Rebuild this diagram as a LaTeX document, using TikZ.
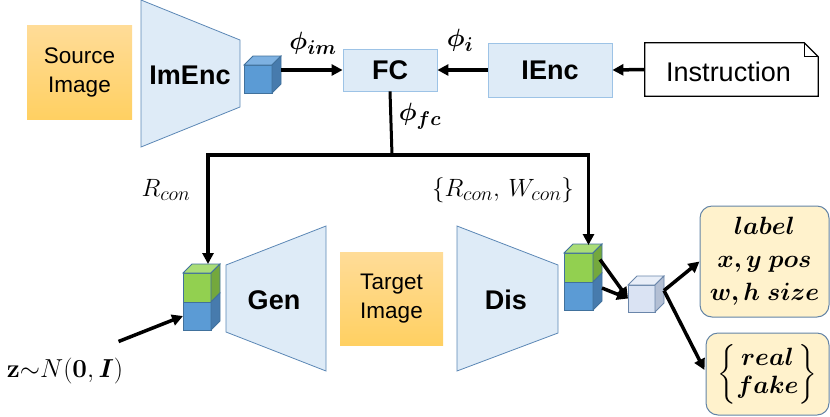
\RequirePackage{fix-cm}
\documentclass[tikz,border=0pt]{standalone}
\usepackage{amsmath,bm}
\usepackage[no-math]{fontspec}
\setmainfont{Liberation Sans}
\usetikzlibrary{arrows.meta,calc,positioning}
\DeclareMathSizes{25}{25}{20}{15}
\DeclareMathSizes{26}{26}{20}{15}
\definecolor{encfill}{HTML}{DEEBF7}
\definecolor{encline}{HTML}{5B87B5}
\definecolor{boxline}{HTML}{9DC3E6}
\definecolor{imgtop}{HTML}{FFDC98}
\definecolor{imgbot}{HTML}{FFD062}
\definecolor{cubeline}{HTML}{41719C}
\definecolor{blueface}{HTML}{5B9BD5}
\definecolor{bluetop}{HTML}{7EB1E1}
\definecolor{blueside}{HTML}{477BAD}
\definecolor{greenface}{HTML}{92D050}
\definecolor{greentop}{HTML}{AADD77}
\definecolor{greenside}{HTML}{74A83D}
\definecolor{paleface}{HTML}{DAE3F3}
\definecolor{paletop}{HTML}{E8EEF8}
\definecolor{paleside}{HTML}{B3BFD4}
\definecolor{paleline}{HTML}{6A86AA}
\definecolor{outfill}{HTML}{FFF2CC}
\definecolor{outline}{HTML}{6384A6}
\newcommand{\netfont}{\fontsize{27}{30}\selectfont\bfseries}
\newcommand{\imgfont}{\fontsize{22.5}{29}\selectfont}
\newcommand{\mathlab}{\fontsize{25}{28}\selectfont}
% top and side faces of a cube whose front face is node #1
\newcommand{\cubetop}[3]{%
  \filldraw[fill=#2, draw=#3, line width=0.8pt] (#1.north west) -- ++(9,-9) -- ($(#1.north east)+(9,-9)$) -- (#1.north east) -- cycle;}
\newcommand{\cubeside}[3]{%
  \filldraw[fill=#2, draw=#3, line width=0.8pt] (#1.north east) -- ++(9,-9) -- ($(#1.south east)+(9,-9)$) -- (#1.south east) -- cycle;}
\begin{document}
\begin{tikzpicture}[x=1pt, y=-1pt,
  arr/.style={line width=3.5pt, -{Triangle[length=11pt,width=11pt]}},
  trunk/.style={line width=3pt},
  trap/.style={draw=encline, fill=encfill, line width=0.8pt},
  encbox/.style={draw=boxline, fill=encfill, line width=0.8pt, inner sep=0pt, font=\netfont},
  imgbox/.style={top color=imgtop, bottom color=imgbot, draw=none, inner sep=0pt, align=center, font=\imgfont},
  cubeface/.style={draw=cubeline, line width=0.8pt, inner sep=0pt, outer sep=0pt},
  outbox/.style={draw=outline, fill=outfill, line width=1pt, rounded corners=12pt, inner sep=0pt, align=center},
  every node/.style={text=black}]
  \useasboundingbox (0,0) rectangle (830,416);

  % encoder side
  \node [imgbox, minimum width=105pt, minimum height=94pt] (src) at (79.5,72) {Source\\Image};
  \draw [trap] (141,0) -- (240,40) -- (240,107) -- (141,147) -- cycle;
  \node [font=\netfont] (imenc) at (190,75) {ImEnc};
  \node [cubeface, fill=blueface, minimum width=28pt, minimum height=28pt] (imcube) at (258,79) {};
  \cubetop{imcube}{bluetop}{cubeline}
  \cubeside{imcube}{blueside}{cubeline}
  \node [encbox, minimum width=94pt, minimum height=42pt] (fc) at (390,70) {FC};
  \node [encbox, minimum width=124pt, minimum height=54pt] (ienc) at (550,70) {IEnc};
  \node [minimum width=173pt, minimum height=53pt, inner sep=0pt] (instr) at (731.5,69.5) {};
  \draw [line width=1.2pt, fill=white] (instr.north west) -- ($(instr.north east)+(-14,0)$) -- ($(instr.north east)+(0,14)$)
    -- (instr.south east) -- (instr.south west) -- cycle;
  \draw [line width=1.2pt] ($(instr.north east)+(-14,0)$) -- ++(0,14) -- ++(14,0);
  \node [font=\fontsize{27}{30}\selectfont] (instrtext) at ($(instr)+(-3,2)$) {Instruction};

  \draw [arr] ($(imcube.east |- fc.west)+(9,0)$) -- (fc.west);
  \draw [arr] (ienc.west) -- (fc.east);
  \draw [arr] (instr.west) -- (ienc.east);
  \node [font=\mathlab] (phiim) at (313,43) {$\bm{\phi_{im}}$};
  \node [font=\mathlab] (phii) at (460,40) {$\bm{\phi_{i}}$};
  \node [font=\mathlab] (phifc) at (420,116) {$\bm{\phi_{fc}}$};

  % generator side
  \node [cubeface, fill=greenface, minimum width=28pt, minimum height=29pt] (lgreen) at (197,287.5) {};
  \node [cubeface, fill=blueface, minimum width=28pt, minimum height=28pt, below=0pt of lgreen] (lblue) {};
  \cubetop{lgreen}{greentop}{cubeline}
  \cubeside{lgreen}{greenside}{cubeline}
  \cubeside{lblue}{blueside}{cubeline}
  \draw [trap] (226,265) -- (326,226) -- (326,371) -- (226,332) -- cycle;
  \node [font=\netfont] (gen) at (274,300) {Gen};
  \node [imgbox, minimum width=103pt, minimum height=93pt] (tgt) at (391.5,298.5) {Target\\Image};

  % discriminator side
  \draw [trap] (457,226) -- (558,265) -- (558,333) -- (457,371) -- cycle;
  \node [font=\netfont] (dis) at (506,300) {Dis};
  \node [cubeface, fill=greenface, minimum width=29pt, minimum height=29pt] (rgreen) at (578.5,267.5) {};
  \node [cubeface, fill=blueface, minimum width=29pt, minimum height=28pt, below=0pt of rgreen] (rblue) {};
  \cubetop{rgreen}{greentop}{cubeline}
  \cubeside{rgreen}{greenside}{cubeline}
  \cubeside{rblue}{blueside}{cubeline}
  \node [cubeface, draw=paleline, fill=paleface, minimum width=27pt, minimum height=27pt] (pale) at (641.5,298.5) {};
  \cubetop{pale}{paletop}{paleline}
  \cubeside{pale}{paleside}{paleline}
  \node [outbox, minimum width=129pt, minimum height=111pt, font=\fontsize{25}{33}\selectfont] (outlab) at (764.5,261.5)
    {$\bm{label}$\\$\bm{x, y\ pos}$\\$\bm{w, h\ size}$};
  \node [outbox, minimum width=123pt, minimum height=82pt, font=\fontsize{25}{28}\selectfont] (outrf) at (767.5,374)
    {$\begin{Bmatrix}\bm{real}\\ \bm{fake}\end{Bmatrix}$};

  % conditioning paths
  \coordinate (split) at (392,155);
  \draw [trunk] (fc.south) -- (split);
  \draw [arr] (split) -| ($(lgreen.north)+(11,-9)$);
  \draw [arr] (split) -| ($(rgreen.north)+(10,-8)$);
  \node [font=\mathlab] (rcon) at (166,190) {$R_{con}$};
  \node [font=\mathlab] (rwcon) at (503,190) {$\{R_{con},\,W_{con}\}$};
  \node [font=\fontsize{26}{28}\selectfont] (noise) at (65,371) {$\mathbf{z}{\sim}N(\mathbf{0},\bm{I})$};
  \draw [arr] ($(noise.north east)+(-8,-13)$) -- (lblue.west);

  \draw [arr] ($(rgreen.east)+(7,-8)$) -- (pale.west);
  \draw [arr] ($(rblue.east)+(9,-8)$) -- (pale.west);
  \draw [arr] ($(pale.east)+(9,-8)$) -- (outlab.west);
  \draw [arr] ($(pale.east)+(9,-8)$) -- ($(outrf.west)+(-1,-4)$);
\end{tikzpicture}
\end{document}
